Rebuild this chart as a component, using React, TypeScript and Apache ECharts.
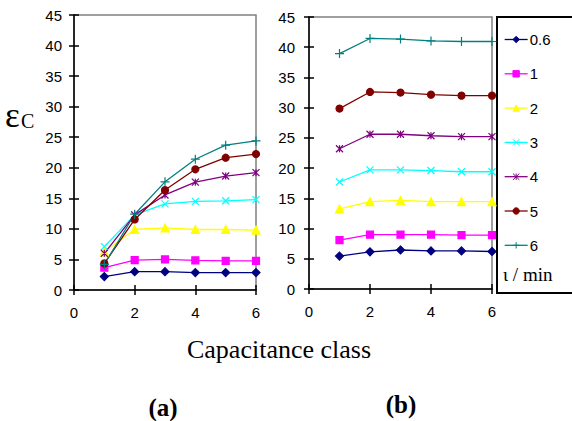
import React, { useEffect, useRef } from "react";
import * as echarts from "echarts";

const capacitanceClasses = [1, 2, 3, 4, 5, 6];
const seriesNames = ["0.6", "1", "2", "3", "4", "5", "6"];
const xTicks = [0, 2, 4, 6];
const yTickStep = 5;

// Panel (a)
const a06 = [2.2, 3.0, 3.0, 2.85, 2.85, 2.85];
const a1 = [3.65, 4.9, 5.0, 4.85, 4.75, 4.75];
const a2 = [6.25, 9.9, 10.15, 9.9, 9.9, 9.8];
const a3 = [7.1, 12.3, 14.1, 14.5, 14.6, 14.8];
const a4 = [6.0, 12.3, 15.55, 17.65, 18.65, 19.2];
const a5 = [4.35, 11.55, 16.35, 19.75, 21.65, 22.25];
const a6 = [4.2, 12.4, 17.7, 21.4, 23.7, 24.4];

// Panel (b)
const b06 = [5.45, 6.15, 6.45, 6.3, 6.3, 6.2];
const b1 = [8.1, 9.0, 9.0, 9.0, 8.9, 8.9];
const b2 = [13.25, 14.45, 14.65, 14.45, 14.45, 14.45];
const b3 = [17.7, 19.7, 19.7, 19.6, 19.4, 19.4];
const b4 = [23.2, 25.6, 25.6, 25.35, 25.2, 25.2];
const b5 = [29.85, 32.6, 32.5, 32.15, 32.0, 32.0];
const b6 = [38.95, 41.45, 41.35, 41.05, 40.95, 40.95];

const panelA = [a06, a1, a2, a3, a4, a5, a6];
const panelB = [b06, b1, b2, b3, b4, b5, b6];

const colors = ["#000080", "#FF00FF", "#FFFF00", "#00FFFF", "#800080", "#800000", "#008080"];
const symbols = [
  "diamond",
  "rect",
  "triangle",
  "path://M0,0L10,10M10,0L0,10",
  "path://M0,0L10,10M10,0L0,10M5,0L5,10",
  "circle",
  "path://M5,0L5,10M0,5L10,5",
];
const symbolSizes = [8, 7, 8, 7, 7, 7, 9];

const SANS = "Liberation Sans";
const SERIF = "Liberation Serif";

export default function App() {
  const ref = useRef<HTMLDivElement>(null);
  useEffect(() => {
    if (!ref.current) return;
    const chart = echarts.init(ref.current, null, { renderer: "svg" });

    const grids = [
      { left: 74, top: 15, width: 182, height: 275 },
      { left: 309, top: 17, width: 183, height: 272 },
    ];

    const xAxes: any[] = [];
    const yAxes: any[] = [];
    grids.forEach((_, gi) => {
      xAxes.push({
        type: "value",
        gridIndex: gi,
        min: xTicks[0],
        max: xTicks[xTicks.length - 1],
        interval: 2,
        axisLine: { show: true, lineStyle: { color: "#000", width: 1.5 } },
        axisTick: { show: true, inside: false, length: 5, lineStyle: { color: "#000", width: 1.5 } },
        axisLabel: { color: "#000", fontSize: 15, fontFamily: SANS, margin: 15 },
        splitLine: { show: false },
      });
      xAxes.push({
        type: "value",
        gridIndex: gi,
        min: xTicks[0],
        max: xTicks[xTicks.length - 1],
        interval: 2,
        position: "bottom",
        axisLine: { show: false },
        axisTick: { show: true, inside: true, length: 5, lineStyle: { color: "#000", width: 1.5 } },
        axisLabel: { show: false },
        splitLine: { show: false },
      });
      yAxes.push({
        type: "value",
        gridIndex: gi,
        min: 0,
        max: 45,
        interval: yTickStep,
        axisLine: { show: true, lineStyle: { color: "#000", width: 1.5 } },
        axisTick: { show: true, inside: false, length: 5, lineStyle: { color: "#000", width: 1.5 } },
        axisLabel: { color: "#000", fontSize: 15, fontFamily: SANS, margin: gi === 0 ? 12 : 14 },
        splitLine: { show: false },
      });
      yAxes.push({
        type: "value",
        gridIndex: gi,
        min: 0,
        max: 45,
        interval: yTickStep,
        position: "left",
        axisLine: { show: false },
        axisTick: { show: true, inside: true, length: 5, lineStyle: { color: "#000", width: 1.5 } },
        axisLabel: { show: false },
        splitLine: { show: false },
      });
    });

    const series: any[] = [];
    [panelA, panelB].forEach((panel, gi) => {
      panel.forEach((vals, si) => {
        series.push({
          type: "line",
          name: seriesNames[si],
          xAxisIndex: gi * 2,
          yAxisIndex: gi * 2,
          data: capacitanceClasses.map((c, i) => [c, vals[i]]),
          symbol: symbols[si],
          symbolSize: symbolSizes[si],
          showSymbol: true,
          lineStyle: { color: colors[si], width: 1.3 },
          itemStyle: { color: colors[si], borderColor: colors[si], borderWidth: 1.2 },
          emphasis: { disabled: true },
        });
      });
    });

    chart.setOption({
      animation: false,
      backgroundColor: "#fff",
      grid: grids.map((g) => ({
        ...g,
        show: true,
        borderColor: "#808080",
        borderWidth: 1.5,
        backgroundColor: "transparent",
      })),
      xAxis: xAxes,
      yAxis: yAxes,
      legend: {
        orient: "vertical",
        left: 504,
        top: 32,
        padding: 0,
        itemWidth: 23,
        itemHeight: 8,
        itemGap: 19.3,
        data: seriesNames.map((n, i) => ({
          name: n,
          lineStyle: { color: colors[i], width: 1.3, opacity: 1, type: "solid" },
          itemStyle: { color: colors[i], borderColor: colors[i], borderWidth: 1 },
        })),
        textStyle: { color: "#000", fontSize: 15, fontFamily: SANS, padding: [0, 0, 0, -3] },
        selectedMode: false,
      },
      graphic: [
        {
          type: "rect",
          shape: { x: 497, y: 17, width: 100, height: 276 },
          style: { fill: "none", stroke: "#000", lineWidth: 2 },
          silent: true,
        },
        {
          type: "text",
          x: 503,
          y: 274,
          style: {
            text: "ι / min",
            fontSize: 19,
            fontFamily: SERIF,
            fill: "#000",
            align: "left",
            verticalAlign: "middle",
          },
        },
        {
          type: "text",
          x: 5,
          y: 115,
          style: {
            text: "ε",
            fontSize: 35,
            fontFamily: SERIF,
            fill: "#000",
            align: "left",
            verticalAlign: "middle",
          },
        },
        {
          type: "text",
          x: 21,
          y: 121,
          style: {
            text: "C",
            fontSize: 20,
            fontFamily: SERIF,
            fill: "#000",
            align: "left",
            verticalAlign: "middle",
          },
        },
        {
          type: "text",
          x: 279,
          y: 349,
          style: {
            text: "Capacitance class",
            fontSize: 26,
            fontFamily: SERIF,
            fill: "#000",
            align: "center",
            verticalAlign: "middle",
          },
        },
        {
          type: "text",
          x: 163,
          y: 407,
          style: {
            text: "(a)",
            fontSize: 25,
            fontWeight: "bold",
            fontFamily: SERIF,
            fill: "#000",
            align: "center",
            verticalAlign: "middle",
          },
        },
        {
          type: "text",
          x: 401,
          y: 404,
          style: {
            text: "(b)",
            fontSize: 25,
            fontWeight: "bold",
            fontFamily: SERIF,
            fill: "#000",
            align: "center",
            verticalAlign: "middle",
          },
        },
      ],
      series,
    });
    return () => chart.dispose();
  }, []);
  return (
    <div
      ref={ref}
      style={{ position: "fixed", left: 0, top: 0, width: 572, height: 421, background: "#fff" }}
    />
  );
}
